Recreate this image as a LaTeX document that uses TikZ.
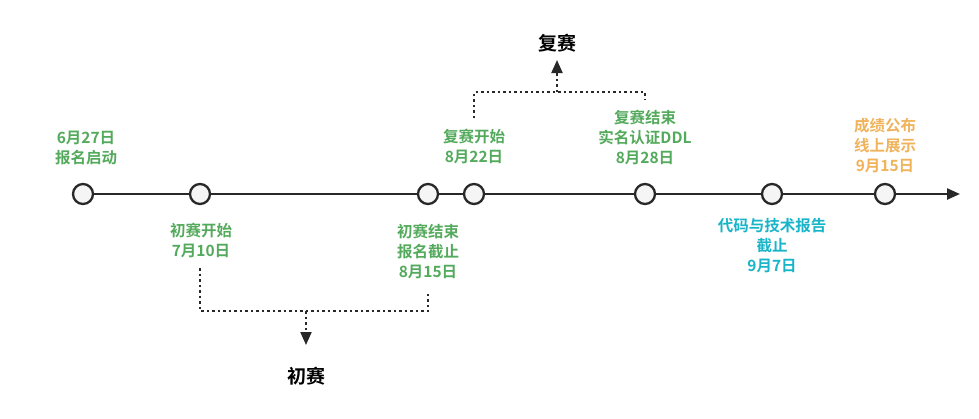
\documentclass[tikz,border=0pt]{standalone}
\usepackage{fontspec}
\newfontfamily\cjk{Noto Sans CJK SC Bold}
\usetikzlibrary{arrows.meta}
\definecolor{tgreen}{RGB}{84,170,92}
\definecolor{tcyan}{RGB}{24,180,200}
\definecolor{torange}{RGB}{240,178,90}
\definecolor{tdark}{RGB}{40,40,40}
\tikzset{
  ev/.style={circle,draw=tdark,fill=black!4,line width=2.3pt,minimum size=20pt,inner sep=0pt},
  lbl/.style={font=\cjk\fontsize{15.5}{20}\selectfont,align=center,inner sep=0pt},
  big/.style={font=\cjk\fontsize{19}{20}\selectfont,text=black,inner sep=0pt},
  dot/.style={draw=tdark,line width=2pt,dash pattern=on 2.5pt off 3pt},
  tl/.style={draw=tdark,line width=2.4pt},
  tip/.style={-{Triangle[length=13pt,width=11pt]}}
}
\begin{document}
\begin{tikzpicture}[x=1pt,y=-1pt]
\useasboundingbox (0,0) rectangle (979,418);
\node[ev] (e1) at (83,194) {};
\node[ev] (e2) at (200,194) {};
\node[ev] (e3) at (428,194) {};
\node[ev] (e4) at (474,194) {};
\node[ev] (e5) at (645,194) {};
\node[ev] (e6) at (772,194) {};
\node[ev] (e7) at (885,194) {};
\coordinate (tip) at (960,194);
\draw[tl] (e1) -- (e2);
\draw[tl] (e2) -- (e3);
\draw[tl] (e3) -- (e4);
\draw[tl] (e4) -- (e5);
\draw[tl] (e5) -- (e6);
\draw[tl] (e6) -- (e7);
\draw[tl,tip] (e7) -- (tip);
% labels
\node[lbl,text=tgreen] (l1) at (86,148) {6月27日\\报名启动};
\node[lbl,text=tgreen] (l2) at (201,241) {初赛开始\\7月10日};
\node[lbl,text=tgreen] (l3) at (428,252) {初赛结束\\报名截止\\8月15日};
\node[lbl,text=tgreen] (l4) at (474,147) {复赛开始\\8月22日};
\node[lbl,text=tgreen] (l5) at (645,138) {复赛结束\\实名认证DDL\\8月28日};
\node[lbl,text=tcyan] (l6) at (772,246) {代码与技术报告\\截止\\9月7日};
\node[lbl,text=torange] (l7) at (885,146) {成绩公布\\线上展示\\9月15日};
% preliminary
\node[big] (chu) at (306,376) {初赛};
\coordinate (a1) at (200,268);
\coordinate (a2) at (428,291);
\coordinate (am) at (306,311);
\coordinate (at) at (306,345);
\draw[dot] (a1) |- (am) -| (a2);
\draw[dot,tip] (am) -- (at);
% final
\node[big] (fu) at (557,43) {复赛};
\coordinate (b1) at (474,118);
\coordinate (b2) at (645,100);
\coordinate (bm) at (557,92);
\coordinate (bt) at (557,60);
\draw[dot] (b1) |- (bm) -| (b2);
\draw[dot,tip] (bm) -- (bt);
\end{tikzpicture}
\end{document}
